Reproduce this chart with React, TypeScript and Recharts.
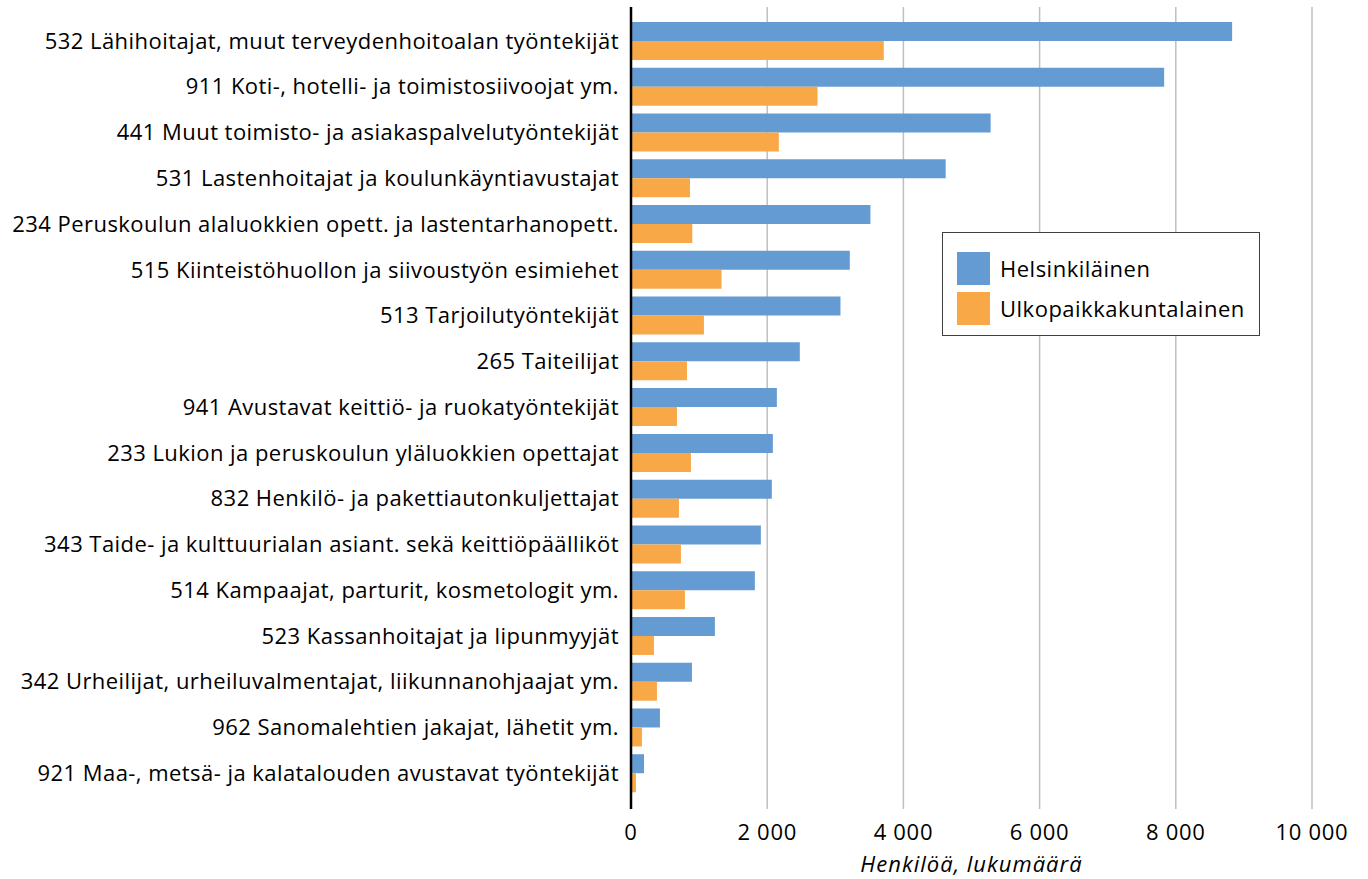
import { BarChart, Bar, XAxis, YAxis, CartesianGrid } from "recharts";

const categories = [
  "532 Lähihoitajat, muut terveydenhoitoalan työntekijät",
  "911 Koti-, hotelli- ja toimistosiivoojat ym.",
  "441 Muut toimisto- ja asiakaspalvelutyöntekijät",
  "531 Lastenhoitajat ja koulunkäyntiavustajat",
  "234 Peruskoulun alaluokkien opett. ja lastentarhanopett.",
  "515 Kiinteistöhuollon ja siivoustyön esimiehet",
  "513 Tarjoilutyöntekijät",
  "265 Taiteilijat",
  "941 Avustavat keittiö- ja ruokatyöntekijät",
  "233 Lukion ja peruskoulun yläluokkien opettajat",
  "832 Henkilö- ja pakettiautonkuljettajat",
  "343 Taide- ja kulttuurialan asiant. sekä keittiöpäälliköt",
  "514 Kampaajat, parturit, kosmetologit ym.",
  "523 Kassanhoitajat ja lipunmyyjät",
  "342 Urheilijat, urheiluvalmentajat, liikunnanohjaajat ym.",
  "962 Sanomalehtien jakajat, lähetit ym.",
  "921 Maa-, metsä- ja kalatalouden avustavat työntekijät",
];

const helsinkilainen = [8827, 7829, 5281, 4621, 3516, 3213, 3076, 2479, 2142, 2083, 2068, 1907, 1819, 1232, 895, 425, 191];
const ulkopaikkakuntalainen = [3712, 2739, 2171, 866, 900, 1330, 1071, 822, 675, 880, 704, 733, 792, 337, 381, 161, 73];

const xTicks = [0, 2000, 4000, 6000, 8000, 10000];

const data = categories.map((name, i) => ({
  name,
  hki: helsinkilainen[i],
  ulko: ulkopaikkakuntalainen[i],
}));

const FONT = "'Open Sans', sans-serif";
const BLUE = "#659BD3";
const ORANGE = "#F9A848";

const fmt = (v: number) => String(v).replace(/\B(?=(\d{3})+(?!\d))/g, " ");

// legend is drawn as a plain box on top of the chart, like the Excel original
function LegendBox() {
  const items = [
    { label: "Helsinkiläinen", color: BLUE },
    { label: "Ulkopaikkakuntalainen", color: ORANGE },
  ];
  return (
    <div
      style={{
        position: "absolute",
        left: 942,
        top: 232,
        border: "1.5px solid #404040",
        background: "#fff",
        width: 318,
        height: 104,
        boxSizing: "border-box",
        padding: "15px 0 0 14px",
        fontFamily: FONT,
        fontSize: 22,
        letterSpacing: 0.5,
        color: "#000",
      }}
    >
      {items.map((it) => (
        <div key={it.label} style={{ display: "flex", alignItems: "center", height: 40 }}>
          <span style={{ width: 33, height: 33, background: it.color, display: "inline-block", marginRight: 10 }} />
          {it.label}
        </div>
      ))}
    </div>
  );
}

export default function App() {
  return (
    <div style={{ position: "absolute", left: 0, top: 0, width: 1368, height: 879, background: "#fff" }}>
      <BarChart
        width={1368}
        height={879}
        data={data}
        layout="vertical"
        margin={{ top: 7, right: 56, bottom: 0, left: 0 }}
        barSize={19}
        barGap={0}
      >
        <CartesianGrid horizontal={false} stroke="#bfbfbf" strokeWidth={1.5} />
        <XAxis
          type="number"
          domain={[0, 10000]}
          ticks={xTicks}
          tickFormatter={fmt}
          axisLine={false}
          tickLine={false}
          tickSize={0}
          tickMargin={15}
          height={70}
          tick={{ fill: "#000", fontSize: 22, fontFamily: FONT, letterSpacing: 0.7 }}
          label={{
            value: "Henkilöä, lukumäärä",
            position: "insideBottom",
            offset: 7,
            style: { fill: "#000", fontSize: 22, fontFamily: FONT, fontStyle: "italic", letterSpacing: 1 },
          }}
        />
        <YAxis
          type="category"
          dataKey="name"
          width={631}
          padding={{ top: 11, bottom: 13 }}
          axisLine={{ stroke: "#000", strokeWidth: 2.5 }}
          tickLine={false}
          tickSize={0}
          tickMargin={12}
          interval={0}
          tick={{ fill: "#000", fontSize: 22, fontFamily: FONT, letterSpacing: 0.45 }}
        />
        <Bar dataKey="hki" name="Helsinkiläinen" fill={BLUE} isAnimationActive={false} />
        <Bar dataKey="ulko" name="Ulkopaikkakuntalainen" fill={ORANGE} isAnimationActive={false} />
      </BarChart>
      <LegendBox />
    </div>
  );
}
